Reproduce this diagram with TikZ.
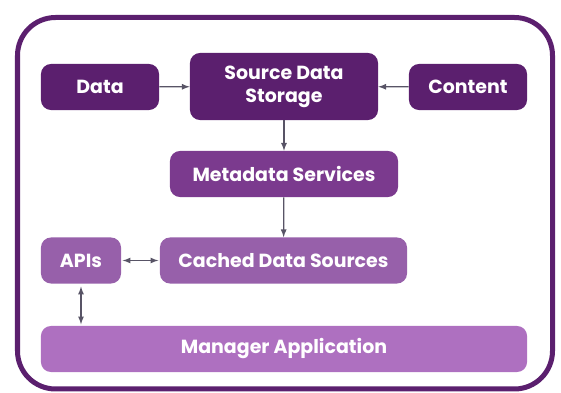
\documentclass[tikz,border=0pt]{standalone}
\usepackage{fontspec}
\setmainfont{Poppins}
\usepackage{tikz}
\usetikzlibrary{positioning,arrows}

\definecolor{darkplum}{HTML}{5B1F6E}
\definecolor{midplum}{HTML}{7B3A8E}
\definecolor{softplum}{HTML}{9760AA}
\definecolor{paleplum}{HTML}{AE70C0}
\definecolor{linkgray}{HTML}{585466}

\tikzset{
	box/.style={shape=rectangle,rounded corners=0.25cm,text=white,font=\bfseries\fontsize{13.5}{16.5}\selectfont,align=center,minimum height=1.15cm,inner sep=0pt},
	link/.style={draw=linkgray,line width=0.9pt,>=latex}
}

\begin{document}
\begin{tikzpicture}[x=0.025cm,y=-0.025cm]
		\useasboundingbox (0,0) rectangle (561,393);
		\draw[darkplum,line width=0.125cm,rounded corners=0.95cm] (17.5,17.5) rectangle (552.5,389);
		\node(src) at (284,86.5) [box,fill=darkplum,minimum width=4.7cm,minimum height=1.675cm] {Source Data\\Storage};
		\node(data) at (100,87) [box,fill=darkplum,minimum width=2.95cm] {Data};
		\node(content) at (468,87) [box,fill=darkplum,minimum width=2.95cm] {Content};
		\node(meta) at (284,174) [box,fill=midplum,minimum width=5.7cm] {Metadata Services};
		\node(cache) at (283.5,260.5) [box,fill=softplum,minimum width=6.175cm] {Cached Data Sources};
		\node(api) at (81,260.5) [box,fill=softplum,minimum width=2cm] {APIs};
		\node(mgr) at (284,349) [box,fill=paleplum,minimum width=12.15cm] {Manager Application};
		\draw[link,->] (data) -- (src);
		\draw[link,->] (content) -- (src);
		\draw[link,->] (src) -- (meta);
		\draw[link,->] (meta) -- (cache);
		\draw[link,<->,shorten <=1pt,shorten >=1pt] (api) -- (cache);
		\draw[link,<->,shorten <=2pt,shorten >=1pt] (api) -- (api|-mgr.north);
	\end{tikzpicture}
\end{document}
